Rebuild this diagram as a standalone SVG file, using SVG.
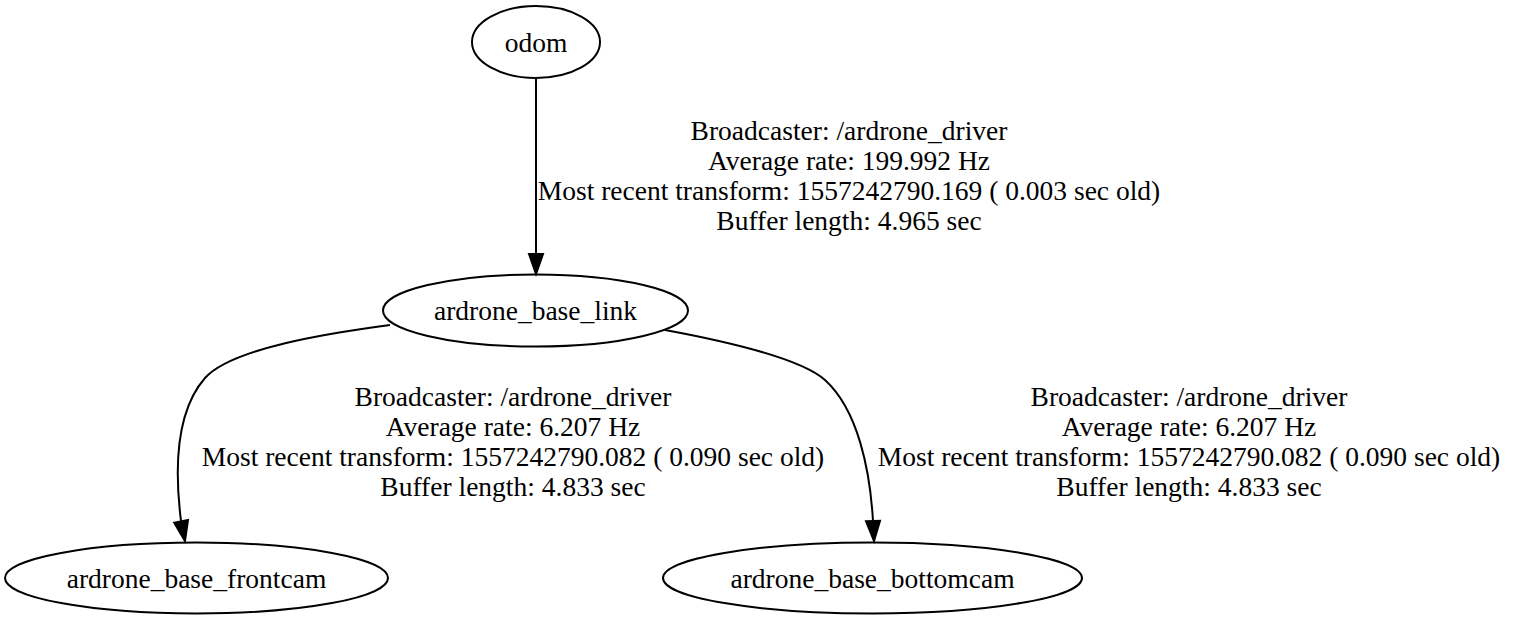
<svg xmlns="http://www.w3.org/2000/svg" width="1515" height="629" viewBox="0 0 1515 629">
<style>
.n ellipse{fill:none;stroke:#000;stroke-width:2}
text{font-family:"Liberation Serif","Times New Roman",serif;font-size:27.5px;fill:#000;text-anchor:middle}
.e path{fill:none;stroke:#000;stroke-width:2}
.e polygon{fill:#000;stroke:#000;stroke-width:2}
</style>
<rect width="1515" height="629" fill="#fff"/>
<g id="odom" class="n"><ellipse cx="536" cy="42" rx="64" ry="36"/><text x="536" y="52">odom</text></g>
<g id="ardrone_base_link" class="n"><ellipse cx="535.5" cy="310.5" rx="152.5" ry="36"/><text x="535.5" y="320">ardrone_base_link</text></g>
<g id="ardrone_base_frontcam" class="n"><ellipse cx="196.5" cy="578" rx="191.5" ry="35.5"/><text x="196.5" y="588">ardrone_base_frontcam</text></g>
<g id="ardrone_base_bottomcam" class="n"><ellipse cx="872.5" cy="578" rx="209.5" ry="35.5"/><text x="872.5" y="588">ardrone_base_bottomcam</text></g>
<g id="edges" class="e">
<g id="e1"><path d="M536,78 L536,254"/><polygon points="529,254 536,274 543,254"/>
<text x="849" y="140">Broadcaster: /ardrone_driver</text><text x="849" y="170">Average rate: 199.992 Hz</text><text x="849" y="200">Most recent transform: 1557242790.169 ( 0.003 sec old)</text><text x="849" y="230">Buffer length: 4.965 sec</text></g>
<g id="e2"><path d="M390,325 C330,333 232,348 205,378 C177,410 174,465 181,521"/><polygon points="174.2,522.8 188,520 185,541"/>
<text x="513" y="406">Broadcaster: /ardrone_driver</text><text x="513" y="436">Average rate: 6.207 Hz</text><text x="513" y="466">Most recent transform: 1557242790.082 ( 0.090 sec old)</text><text x="513" y="496">Buffer length: 4.833 sec</text></g>
<g id="e3"><path d="M665,330 C730,342 800,358 825,380 C858,410 870,470 873,521"/><polygon points="866,521.3 880,520.7 874,541"/>
<text x="1189" y="406">Broadcaster: /ardrone_driver</text><text x="1189" y="436">Average rate: 6.207 Hz</text><text x="1189" y="466">Most recent transform: 1557242790.082 ( 0.090 sec old)</text><text x="1189" y="496">Buffer length: 4.833 sec</text></g>
</g>
</svg>
